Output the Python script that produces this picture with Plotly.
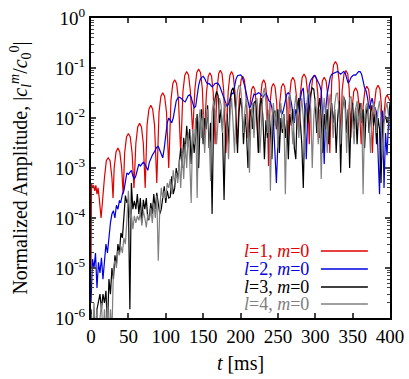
import plotly.graph_objects as go

# time grid (ms) for the sampled series
t_grid = list(range(0, 401, 2))

# l=1, m=0 : arches (peak with shoulders, then the dip)
red_t = [
    0, 0.7, 2, 3.5, 5, 6.5, 8, 9.5, 11, 13.5,
    18, 20.5, 23, 25.5, 28, 29.5,
    31, 33.5, 36, 38.5, 41, 43,
    45, 47.5, 50, 52.5, 55, 57.5,
    60, 62.5, 65, 67.5, 70, 72.5,
    75, 77.5, 80, 82.5, 85, 88,
    91, 93.5, 96, 98.5, 101, 104,
    107, 109.5, 112, 114.5, 117, 120,
    123, 125.5, 128, 130.5, 133, 136,
    139, 141.5, 144, 146.5, 149, 151.5,
    154.5, 156.8, 159, 161.3, 163.5, 166,
    168.5, 170.8, 173, 175.3, 177.5, 180.5,
    183.5, 185.8, 188, 190.3, 192.5, 195.5,
    198.5, 200.8, 203, 205.2, 207.5, 210,
    212.5, 214.8, 217, 219.2, 221.5, 224,
    226.5, 228.8, 231, 233.2, 235.5, 237.5,
    239.5, 241.8, 244, 246.2, 248.5, 250.5,
    252.5, 254.8, 257, 259.2, 261.5, 263.5,
    265.5, 267.8, 270, 272.5, 275, 277.5,
    280, 282.5, 285, 287.5, 290, 292,
    294, 296.5, 299, 301.5, 303.5, 305.5,
    307.5, 309.5, 312, 314.5, 317, 319.5,
    322, 324.5, 327, 329.5, 332, 334,
    336, 338.5, 341, 343.5, 345.5, 347.5,
    349.5, 351.5, 354, 356.5, 359, 361.5,
    364, 366.5, 369, 371.5, 374, 376.5,
    379, 381.5, 384, 386.5, 388.5, 390,
    392, 394, 396, 398, 400,
]
red_amp = [
    1e-5, 5e-4, 4e-4, 4.5e-4, 3.5e-4, 4.5e-4, 3e-4, 4e-4, 2.5e-4, 1e-4,
    6.4e-4, 1.4e-3, 1.6e-3, 1.4e-3, 6.4e-4, 2.5e-4,
    1e-3, 2.1e-3, 2.5e-3, 2.1e-3, 1e-3, 3e-4,
    2e-3, 4.2e-3, 4.9e-3, 4.2e-3, 2e-3, 4e-4,
    3.1e-3, 6.6e-3, 7.8e-3, 6.6e-3, 3.1e-3, 4e-4,
    7.2e-3, 1.5e-2, 1.8e-2, 1.5e-2, 7.2e-3, 5e-4,
    1.3e-2, 2.7e-2, 3.2e-2, 2.7e-2, 1.3e-2, 1e-3,
    2.3e-2, 4.9e-2, 5.8e-2, 4.9e-2, 2.3e-2, 2e-3,
    3.4e-2, 7.2e-2, 8.5e-2, 7.2e-2, 3.4e-2, 5e-3,
    3.8e-2, 8.1e-2, 9.5e-2, 8.1e-2, 3.8e-2, 4e-3,
    3.2e-2, 6.8e-2, 8e-2, 6.8e-2, 3.2e-2, 3e-3,
    3.6e-2, 7.7e-2, 9e-2, 7.7e-2, 3.6e-2, 2e-3,
    3.4e-2, 7.2e-2, 8.5e-2, 7.2e-2, 3.4e-2, 3e-3,
    2.7e-2, 5.8e-2, 6.8e-2, 5.8e-2, 2.7e-2, 4e-3,
    1.7e-2, 3.7e-2, 4.3e-2, 3.7e-2, 1.7e-2, 2e-3,
    2.3e-2, 4.9e-2, 5.8e-2, 4.9e-2, 2.3e-2, 1.1e-3,
    2e-2, 4.2e-2, 4.9e-2, 4.2e-2, 2e-2, 3e-3,
    2e-2, 4.2e-2, 4.9e-2, 4.2e-2, 2e-2, 3.6e-3,
    2.6e-2, 5.5e-2, 6.5e-2, 5.5e-2, 2.6e-2, 6e-3,
    3e-2, 6.5e-2, 7.6e-2, 6.5e-2, 3e-2, 3e-3,
    2.9e-2, 6.1e-2, 7.2e-2, 6.1e-2, 2.9e-2, 4e-3,
    2.6e-2, 5.5e-2, 6.5e-2, 5.5e-2, 2.6e-2, 2e-3,
    5.4e-2, 1.15e-1, 1.35e-1, 1.15e-1, 5.4e-2, 3e-3,
    3.6e-2, 7.6e-2, 8.9e-2, 7.6e-2, 3.6e-2, 4e-3,
    1.6e-2, 3.4e-2, 4e-2, 3.4e-2, 1.6e-2, 3e-3,
    1.7e-2, 3.7e-2, 4.3e-2, 3.7e-2, 1.7e-2, 2e-3,
    1.8e-2, 3.8e-2, 4.5e-2, 3.8e-2, 1.8e-2, 3e-3,
    1.2e-2, 2.5e-2, 2.9e-2, 2.5e-2, 2.2e-2,
]

# l=2, m=0 on t_grid
blue_amp = [
    2e-6, 1.5e-5, 1e-5, 2e-5, 4e-6, 1.3e-5, 8e-6, 1.6e-5, 6e-6, 1.2e-5,
    3e-5, 2e-5, 4.5e-5, 8e-5, 1.2e-4, 1.4e-4, 1e-4, 1.8e-4, 1.5e-4, 2.2e-4,
    2.1e-4, 3e-4, 3.5e-4, 6e-4, 8e-4, 7.5e-4, 8.5e-4, 9e-4, 7e-4, 6e-4,
    7e-4, 1e-3, 1.2e-3, 1.1e-3, 1.2e-3, 1.3e-3, 1.2e-3, 1e-3, 9e-4, 1.3e-3,
    1.6e-3, 1.8e-3, 2e-3, 2.3e-3, 2.6e-3, 2.7e-3, 2.3e-3, 1.8e-3, 1.6e-3, 2.5e-3,
    5e-3, 8e-3, 1e-2, 9e-3, 8e-3, 1e-2, 1.6e-2, 2.2e-2, 2.5e-2, 2.6e-2,
    2.5e-2, 2.3e-2, 2.2e-2, 2.1e-2, 2.4e-2, 2.8e-2, 2.9e-2, 2.6e-2, 2e-2, 1.6e-2,
    1.7e-2, 3e-2, 4.5e-2, 5.8e-2, 6.5e-2, 6.8e-2, 6.2e-2, 5.3e-2, 4.8e-2, 4.9e-2,
    4.6e-2, 4.2e-2, 4.5e-2, 4.9e-2, 5e-2, 4.9e-2, 4.4e-2, 3.6e-2, 3e-2, 2.5e-2,
    2e-2, 1.7e-2, 1.9e-2, 2.6e-2, 3.2e-2, 3e-2, 4.5e-2, 6e-2, 7e-2, 7.2e-2,
    7.3e-2, 6.8e-2, 5.6e-2, 4.2e-2, 3e-2, 2.2e-2, 1.6e-2, 1.8e-2, 2.5e-2, 3e-2,
    2.9e-2, 3.1e-2, 3.2e-2, 3.1e-2, 2.8e-2, 2.6e-2, 2.9e-2, 3.1e-2, 2.7e-2, 2.2e-2,
    2.1e-2, 1.6e-2, 9e-3, 2e-3, 5e-4, 3e-3, 1.2e-2, 1.5e-2, 1.2e-2, 1.6e-2,
    2.4e-2, 3e-2, 3.2e-2, 2.8e-2, 2e-2, 1.2e-2, 8e-3, 1.5e-2, 1.2e-2, 2e-2,
    2.4e-2, 3.5e-2, 4e-2, 1.5e-2, 1.5e-3, 1.2e-2, 4.5e-2, 5.7e-2, 6.5e-2, 7e-2,
    7e-2, 6e-2, 5e-2, 4.5e-2, 3.5e-2, 1e-2, 1.2e-3, 1.5e-2, 3e-2, 5e-2,
    6.5e-2, 7.5e-2, 7.8e-2, 8e-2, 8.3e-2, 8.5e-2, 8e-2, 7.5e-2, 8e-2, 8.5e-2,
    8e-2, 6e-2, 5e-2, 5.5e-2, 6.5e-2, 7e-2, 7.3e-2, 7.2e-2, 7.8e-2, 8.5e-2,
    8.5e-2, 7.5e-2, 5.5e-2, 4e-2, 3.5e-2, 2.5e-2, 1.5e-2, 2e-2, 2.5e-2, 1.8e-2,
    1.6e-2, 1.3e-2, 2e-3, 3e-4, 1e-2, 1.4e-2, 4e-4, 5e-3, 1.8e-3, 8e-3,
    1.5e-2,
]

# l=3, m=0 on t_grid
black_amp = [
    1.5e-6, 5e-7, 1.2e-6, 4e-7, 1.5e-6, 2e-6, 3e-6, 1.5e-6, 3e-6, 2e-6,
    3.5e-6, 6e-7, 6e-6, 3e-6, 1e-5, 6e-6, 1.8e-5, 1.2e-5, 3e-5, 2e-5,
    5e-5, 4e-5, 1.2e-4, 2.8e-4, 2e-4, 2.4e-4, 1.5e-6, 5e-4, 1.5e-4, 2.2e-4,
    1.5e-4, 3e-4, 1.2e-4, 2.5e-4, 8e-5, 2.3e-4, 1.5e-4, 2.5e-4, 9e-5, 1e-4,
    2e-4, 1.2e-4, 3e-4, 1.5e-4, 3.2e-4, 2e-4, 1.2e-4, 1.5e-4, 3e-4, 4.3e-4,
    2e-4, 3.5e-4, 2.5e-4, 2.6e-4, 6.8e-4, 3e-4, 4e-4, 1e-3, 6e-4, 1.2e-3,
    2.5e-3, 1e-3, 4e-3, 2e-3, 7e-3, 3e-3, 6e-3, 1.2e-3, 5e-3, 2e-3,
    4e-3, 1.2e-2, 1e-3, 8e-3, 1.5e-2, 3e-3, 1e-2, 6e-3, 1.8e-2, 2.5e-3,
    8e-3, 1.2e-4, 1e-2, 2.5e-2, 3.4e-2, 2.8e-2, 8e-3, 1.5e-2, 5e-3, 2.3e-4,
    6e-3, 1.2e-2, 3e-3, 2e-2, 3.5e-2, 4e-2, 3e-2, 1e-2, 2e-3, 1.3e-2,
    2.5e-2, 1.5e-2, 3e-3, 1.2e-2, 5e-3, 1e-3, 8e-3, 1.5e-2, 6e-3, 2e-2,
    2.2e-2, 8e-3, 2e-3, 1.8e-2, 2.5e-2, 1e-2, 1.5e-3, 9e-3, 4e-3, 1.2e-2,
    6e-3, 1.5e-3, 1.3e-2, 1.4e-2, 6e-3, 1.5e-2, 2e-3, 1e-2, 5e-3, 1.2e-2,
    4e-3, 9e-3, 1.5e-3, 1.2e-2, 7e-3, 1.5e-2, 2.5e-3, 1.5e-3, 1.8e-2, 2.5e-2,
    1e-2, 3e-3, 4e-4, 1e-2, 2e-2, 8e-3, 1.5e-2, 3e-2, 4e-2, 3.8e-2,
    2e-2, 5e-3, 1.5e-2, 2.5e-2, 1e-2, 2e-3, 1.2e-2, 6e-3, 1.5e-2, 3e-3,
    1e-2, 2e-2, 8e-3, 1.5e-2, 2e-3, 1e-2, 2.2e-2, 8e-4, 1.2e-2, 2.6e-2,
    2.2e-2, 5e-3, 1.5e-2, 1e-3, 1.2e-2, 2e-2, 6e-3, 1.6e-2, 3e-3, 1.4e-2,
    2e-2, 8e-3, 1.5e-2, 2.5e-3, 1.2e-2, 1.8e-2, 5e-3, 1.3e-2, 1.8e-2, 7e-3,
    1.2e-2, 3e-3, 1e-2, 6e-3, 5e-4, 8e-3, 9e-3, 1.1e-2, 8e-3, 1e-2,
    2e-2,
]

# l=4, m=0 on t_grid
gray_amp = [
    1.2e-6, 4e-7, 2e-6, 5e-7, 1.5e-6, 3e-7, 1e-6, 2e-6, 4e-7, 1.5e-6,
    5e-7, 2e-6, 3e-7, 1.5e-6, 5e-7, 1e-5, 1.4e-5, 1e-5, 2.2e-5, 1.8e-5,
    2.7e-5, 2e-5, 4e-5, 3e-5, 9e-5, 3.5e-4, 1e-4, 1.2e-4, 6e-5, 1.1e-4,
    8e-5, 1.1e-4, 9e-5, 1.3e-4, 7e-5, 1.4e-4, 1e-4, 6.5e-5, 1.2e-4, 9e-5,
    1.6e-4, 8e-5, 2e-4, 1e-4, 2.8e-4, 1.4e-5, 1.5e-4, 4e-4, 2.5e-4, 3.5e-4,
    2.5e-4, 5e-4, 4e-4, 6e-4, 3e-4, 9e-4, 5e-4, 8e-4, 5e-4, 1.5e-3,
    4e-4, 2e-3, 6e-4, 3e-3, 1e-3, 5e-3, 1.5e-3, 2e-4, 6e-3, 3e-3,
    1e-2, 2.5e-4, 8e-3, 1.5e-2, 4e-3, 1.2e-2, 2e-3, 8e-3, 1.5e-2, 5e-3,
    5.5e-4, 1.3e-2, 2.2e-2, 1.4e-2, 3e-3, 1e-2, 2.5e-2, 1.8e-2, 5e-3, 1.5e-2,
    2e-2, 7e-3, 1.5e-3, 1.2e-2, 2.5e-2, 8e-3, 2e-3, 1.5e-2, 3.5e-2, 4.5e-2,
    4.2e-2, 2e-2, 5e-3, 1.5e-2, 2.5e-2, 6e-3, 8e-4, 1e-2, 2e-2, 4e-3,
    1.5e-2, 2.5e-2, 1e-2, 2e-3, 1.2e-2, 3e-2, 4e-2, 2e-2, 5e-3, 1.5e-2,
    3.5e-4, 1e-2, 2e-2, 7e-3, 1.5e-2, 2.5e-3, 1.2e-2, 2e-2, 6e-3, 1.2e-2,
    3e-4, 1e-2, 2.5e-2, 3e-2, 1e-2, 3e-3, 1.5e-2, 2.8e-2, 1.5e-2, 4e-3,
    1.2e-2, 2.5e-2, 1e-2, 2e-3, 1.5e-2, 3e-2, 3.5e-2, 1.5e-2, 1e-3, 1e-2,
    2.5e-2, 1.2e-2, 3e-3, 1.5e-2, 6e-4, 1e-2, 2.5e-2, 1e-2, 2e-3, 1.6e-2,
    3e-2, 1.5e-2, 4e-3, 1.8e-2, 3e-2, 3.2e-2, 1.2e-2, 3e-3, 1.5e-2, 2.8e-2,
    1.5e-2, 2e-3, 1.2e-2, 2.5e-2, 2.7e-2, 1e-2, 3e-3, 1.5e-2, 2.2e-2, 8e-3,
    1.2e-2, 2e-2, 3e-4, 1e-2, 1.8e-2, 2e-2, 8e-3, 2e-3, 1.2e-2, 2e-2,
    1.5e-2, 5e-3, 1.5e-2, 2.2e-2, 1e-2, 1.5e-3, 8e-3, 1.5e-2, 2e-2, 1.2e-2,
    6e-3,
]

x_ticks = [0, 50, 100, 150, 200, 250, 300, 350, 400]
y_ticks = [1e-6, 1e-5, 1e-4, 1e-3, 1e-2, 1e-1, 1]
y_ticktext = ['10<sup>-6</sup>', '10<sup>-5</sup>', '10<sup>-4</sup>', '10<sup>-3</sup>',
              '10<sup>-2</sup>', '10<sup>-1</sup>', '10<sup>0</sup>']
y_minor = [m * 10.0 ** e for e in range(-6, 0) for m in range(2, 10)]

labels = ['<i>l</i>=1, <i>m</i>=0', '<i>l</i>=2, <i>m</i>=0',
          '<i>l</i>=3, <i>m</i>=0', '<i>l</i>=4, <i>m</i>=0']
colors = ['#e00000', '#0000e0', '#000000', '#808080']

FONT = 'Liberation Serif, Times New Roman, serif'

fig = go.Figure()
fig.add_trace(go.Scatter(x=red_t, y=red_amp, mode='lines', line=dict(color=colors[0], width=1.2)))
fig.add_trace(go.Scatter(x=t_grid, y=blue_amp, mode='lines', line=dict(color=colors[1], width=1.2)))
fig.add_trace(go.Scatter(x=t_grid, y=black_amp, mode='lines', line=dict(color=colors[2], width=1.2)))
fig.add_trace(go.Scatter(x=t_grid, y=gray_amp, mode='lines', line=dict(color=colors[3], width=1.2)))

# legend drawn gnuplot-style: text right-aligned, sample line to the right
legend_y = [0.223, 0.163, 0.103, 0.047]
for lab, col, ly in zip(labels, colors, legend_y):
    fig.add_annotation(x=0.736, y=ly, xref='paper', yref='paper', text=lab,
                       showarrow=False, xanchor='right', yanchor='middle',
                       font=dict(family=FONT, size=18, color=col))
    fig.add_shape(type='line', xref='paper', yref='paper', x0=0.769, x1=0.926,
                  y0=ly, y1=ly, line=dict(color=col, width=1.5))

fig.update_layout(
    width=409, height=379,
    margin=dict(l=91, r=19, t=18, b=61),
    paper_bgcolor='white', plot_bgcolor='white',
    font=dict(family=FONT, size=19, color='black'),
    showlegend=False,
)
fig.update_xaxes(
    range=[0, 400], tickvals=x_ticks, ticks='inside', ticklen=5, tickwidth=1.5,
    mirror='allticks', showline=True, linecolor='black', linewidth=2,
    showgrid=False, zeroline=False, automargin=False, ticklabeloverflow='allow',
    title=dict(text='<i>t</i> [ms]', font=dict(size=20), standoff=10),
)
fig.update_yaxes(
    type='log', range=[-6, 0], tickvals=y_ticks, ticktext=y_ticktext,
    ticks='inside', ticklen=5, tickwidth=1.5,
    minor=dict(tickvals=y_minor, ticks='inside', ticklen=3, tickwidth=1, showgrid=False),
    mirror='allticks', showline=True, linecolor='black', linewidth=2,
    showgrid=False, zeroline=False, automargin=False, ticklabeloverflow='allow',
    title=dict(text='Normalized Amplitude, |<i>c</i><sub><i>l</i></sub><sup><i>m</i></sup>/'
                    '<i>c</i><sub>0</sub><sup>0</sup>|', font=dict(size=20), standoff=22),
)

# drop the default 8px page margin so the figure fills the window exactly
fig.write_html("out.html", config={'displayModeBar': False},
               post_script="document.body.style.margin='0';")
